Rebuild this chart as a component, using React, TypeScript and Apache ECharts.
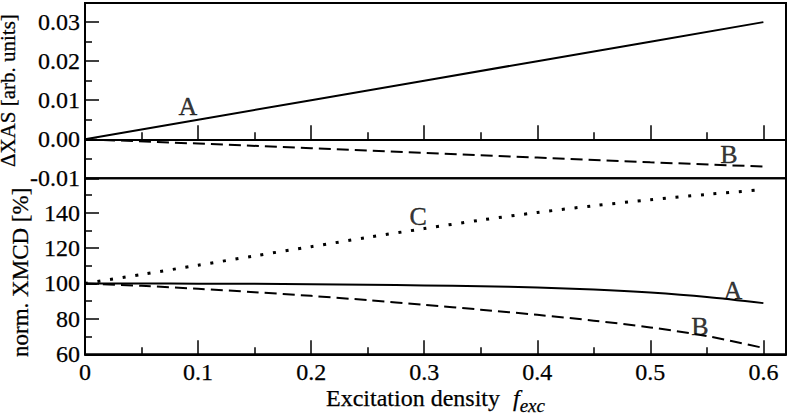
import React, { useEffect, useRef } from "react";
import * as echarts from "echarts";

// ---------- data ----------
const topX = [0, 0.1, 0.2, 0.3, 0.4, 0.5, 0.6];
const xasA = [0, 0.005, 0.01, 0.015, 0.02, 0.025, 0.03];
const xasB = [0, -0.0011, -0.0023, -0.0035, -0.0047, -0.0059, -0.007];

const botX = [0, 0.05, 0.1, 0.15, 0.2, 0.25, 0.3, 0.35, 0.4, 0.45, 0.5, 0.55, 0.6];
const xmcdA = [100, 100, 99.9, 99.8, 99.6, 99.3, 98.9, 98.4, 97.7, 96.6, 94.9, 92.4, 88.9];
const xmcdB = [100, 98.7, 97.0, 95.1, 93.0, 90.6, 88.0, 85.2, 82.3, 79.0, 75.2, 70.3, 63.6];
const xmcdC = [100, 105.1, 110.3, 115.6, 120.8, 126.0, 131.0, 135.8, 140.1, 143.9, 147.3, 150.3, 153.0];

const xMajor = [0, 0.1, 0.2, 0.3, 0.4, 0.5, 0.6];
const xMinor = [0.05, 0.15, 0.25, 0.35, 0.45, 0.55];
const yTopMajor = [-0.01, 0, 0.01, 0.02, 0.03];
const yTopMinor = [-0.005, 0.005, 0.015, 0.025];
const yBotMajor = [60, 80, 100, 120, 140];
const yBotMinor = [70, 90, 110, 130, 150];

const topLabels: [number, number, string][] = [
  [0.091, 0.0085, "A"],
  [0.5695, -0.004, "B"],
];
const botLabels: [number, number, string][] = [
  [0.2947, 138.1, "C"],
  [0.573, 95.9, "A"],
  [0.5438, 75.6, "B"],
];

const FONT = "Liberation Serif";

const pairs = (xs: number[], ys: number[]) => xs.map((x, i) => [x, ys[i]]);

const rt = (size: number, extra: any = {}) => ({
  fontFamily: FONT,
  fontSize: size,
  color: "#000",
  textBorderColor: "#000",
  textBorderWidth: 0.25,
  ...extra,
});

export default function App() {
  const ref = useRef<HTMLDivElement>(null);
  useEffect(() => {
    if (!ref.current) return;
    const chart = echarts.init(ref.current, undefined, { renderer: "svg" });
    const axisLine = { show: true, lineStyle: { color: "#000", width: 2 } };
    const tickLabel = (fmt: (v: number) => string, margin: number, vals: number[], show = true) => ({
      show,
      customValues: vals,
      margin,
      fontFamily: FONT,
      fontSize: 24,
      color: "#000",
      formatter: (v: number) => `{t|${fmt(v)}}`,
      rich: { t: rt(24) },
    });
    const majorX = (gridIndex: number, labels: boolean) => ({
      type: "value",
      gridIndex,
      min: 0,
      max: 0.62,
      position: "bottom",
      axisLine,
      splitLine: { show: false },
      axisTick: {
        show: true,
        inside: true,
        length: 14,
        customValues: xMajor,
        lineStyle: { color: "#000", width: 1.5 },
      },
      axisLabel: tickLabel((v) => (v === 0 ? "0" : v.toFixed(1)), 6, xMajor, labels),
    });
    const minorX = (gridIndex: number) => ({
      type: "value",
      gridIndex,
      min: 0,
      max: 0.62,
      position: "bottom",
      axisLine: { show: false },
      splitLine: { show: false },
      axisTick: {
        show: true,
        inside: true,
        length: 7,
        customValues: xMinor,
        lineStyle: { color: "#000", width: 1.5 },
      },
      axisLabel: { show: false },
    });
    const majorY = (
      gridIndex: number,
      min: number,
      max: number,
      vals: number[],
      fmt: (v: number) => string,
      name: string,
      pad: number[],
      nameSize: number
    ) => ({
      type: "value",
      gridIndex,
      min,
      max,
      position: "left",
      axisLine,
      splitLine: { show: false },
      axisTick: {
        show: true,
        inside: true,
        length: 14,
        customValues: vals,
        lineStyle: { color: "#000", width: 1.5 },
      },
      axisLabel: tickLabel(fmt, 5, vals),
      name: `{t|${name}}`,
      nameLocation: "middle",
      nameRotate: 90,
      nameGap: 53,
      nameTextStyle: { fontFamily: FONT, fontSize: nameSize, color: "#000", padding: pad, rich: { t: rt(nameSize) } },
    });
    const minorY = (gridIndex: number, min: number, max: number, vals: number[]) => ({
      type: "value",
      gridIndex,
      min,
      max,
      position: "left",
      axisLine: { show: false },
      splitLine: { show: false },
      axisTick: {
        show: true,
        inside: true,
        length: 7,
        customValues: vals,
        lineStyle: { color: "#000", width: 1.5 },
      },
      axisLabel: { show: false },
    });

    const line = (name: string, x: number, y: number, data: number[][], type: any, width = 2, smooth: any = 0.3) => ({
      type: "line",
      name,
      xAxisIndex: x,
      yAxisIndex: y,
      data,
      showSymbol: false,
      symbol: "none",
      smooth,
      lineStyle: { color: "#000", width, type, cap: "butt" },
      z: 3,
    });
    const annot = (x: number, y: number, labels: [number, number, string][]) => ({
      type: "scatter",
      xAxisIndex: x,
      yAxisIndex: y,
      symbolSize: 1,
      itemStyle: { color: "rgba(0,0,0,0)" },
      data: labels.map((l) => ({ value: [l[0], l[1]], name: l[2] })),
      label: {
        show: true,
        position: "inside",
        formatter: (p: any) => `{t|${p.name}}`,
        fontFamily: FONT,
        fontSize: 26,
        color: "#000",
        rich: { t: rt(26, { textBorderWidth: 0.4 }) },
      },
      z: 5,
    });

    const gridBase = {
      left: 85,
      width: 701,
      show: true,
      borderColor: "#000",
      borderWidth: 2,
      backgroundColor: "transparent",
      containLabel: false,
      outerBoundsMode: "none",
    };

    chart.setOption({
      animation: false,
      backgroundColor: "#fff",
      textStyle: { fontFamily: FONT },
      grid: [
        { ...gridBase, top: 3, height: 175.3 },
        { ...gridBase, top: 178.3, height: 176 },
      ],
      xAxis: [
        majorX(0, false),
        minorX(0),
        {
          ...majorX(1, true),
          name: "{n|Excitation density}{f|f}{s|exc}",
          nameLocation: "middle",
          nameGap: 27,
          nameTextStyle: {
            fontFamily: FONT,
            color: "#000",
            rich: {
              n: rt(24),
              f: rt(24, { fontStyle: "italic", padding: [0, 0, 0, 13] }),
              s: rt(19, { fontStyle: "italic", padding: [15, 0, 0, 0] }),
            },
          },
        },
        minorX(1),
      ],
      yAxis: [
        majorY(0, -0.01, 0.0349, yTopMajor, (v) => v.toFixed(2), "ΔXAS [arb. units]", [0, 0, 0, 0], 21),
        minorY(0, -0.01, 0.0349, yTopMinor),
        majorY(1, 60, 159.4, yBotMajor, (v) => String(v), "norm. XMCD [%]", [0, 12, 0, 0], 23),
        minorY(1, 60, 159.4, yBotMinor),
      ],
      series: [
        line("A", 0, 0, pairs(topX, xasA), "solid", 2, false),
        line("B", 0, 0, pairs(topX, xasB), [12, 6], 2, false),
        line("A", 2, 2, pairs(botX, xmcdA), "solid"),
        line("B", 2, 2, pairs(botX, xmcdB), [12, 6]),
        line("C", 2, 2, pairs(botX, xmcdC), [3, 9.7], 3),
        annot(0, 0, topLabels),
        annot(2, 2, botLabels),
      ],
    });
    return () => chart.dispose();
  }, []);
  return (
    <div
      ref={ref}
      style={{ position: "absolute", left: 0, top: 0, width: 789, height: 417 }}
    />
  );
}
